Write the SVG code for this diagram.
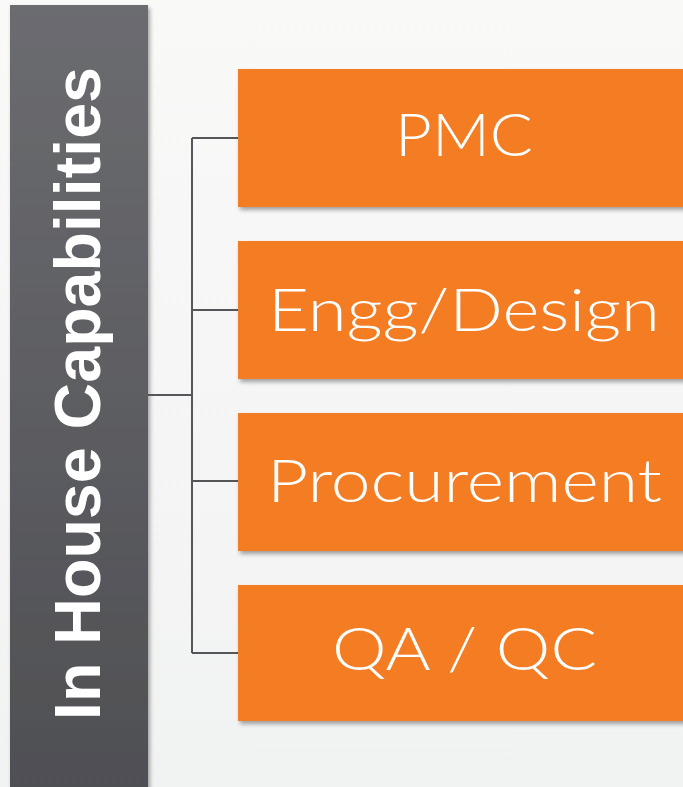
<svg xmlns="http://www.w3.org/2000/svg" width="683" height="787" viewBox="0 0 683 787">
  <defs>
    <linearGradient id="bg" x1="0" y1="0" x2="0" y2="1">
      <stop offset="0" stop-color="#f9f9f8"/>
      <stop offset="1" stop-color="#f1f2f2"/>
    </linearGradient>
    <linearGradient id="bar" x1="0" y1="0" x2="0" y2="1">
      <stop offset="0" stop-color="#6b6c70"/>
      <stop offset="1" stop-color="#4e4f53"/>
    </linearGradient>
    <filter id="shadow" x="-5%" y="-5%" width="115%" height="120%">
      <feDropShadow dx="2" dy="3" stdDeviation="2" flood-color="#000" flood-opacity="0.35"/>
    </filter>
  </defs>
  <style>
    .box { fill: #f47b20; filter: url(#shadow); }
    .lbl { fill: #ffffff; font-family: "Lato", "Liberation Sans", sans-serif; font-weight: 300; font-size: 60px; text-anchor: middle; }
    .conn { stroke: #55565a; stroke-width: 2; fill: none; }
  </style>
  <rect x="0" y="0" width="683" height="787" fill="url(#bg)"/>

  <g id="title">
    <rect x="10" y="5" width="138" height="790" fill="url(#bar)" filter="url(#shadow)"/>
    <text transform="translate(100,720) rotate(-90)" x="0" y="0" textLength="653" lengthAdjust="spacingAndGlyphs" fill="#ffffff" font-family="'Liberation Sans', Arial, sans-serif" font-weight="bold" font-size="64">In House Capabilities</text>
  </g>

  <g id="connectors">
    <path class="conn" d="M148,395 H192 M192,138 V653 M192,138 H238 M192,310 H238 M192,481 H238 M192,653 H238"/>
  </g>

  <g id="pmc">
    <rect class="box" x="238" y="69" width="450" height="138"/>
    <text class="lbl" x="464" y="156" textLength="138" lengthAdjust="spacingAndGlyphs">PMC</text>
  </g>
  <g id="engg">
    <rect class="box" x="238" y="241" width="450" height="138"/>
    <text class="lbl" x="464" y="331" textLength="392" lengthAdjust="spacingAndGlyphs">Engg/Design</text>
  </g>
  <g id="procurement">
    <rect class="box" x="238" y="413" width="450" height="138"/>
    <text class="lbl" x="464.5" y="502" textLength="395" lengthAdjust="spacingAndGlyphs">Procurement</text>
  </g>
  <g id="qaqc">
    <rect class="box" x="238" y="585" width="450" height="136"/>
    <text class="lbl" x="464.5" y="670" textLength="265" lengthAdjust="spacingAndGlyphs">QA / QC</text>
  </g>
</svg>
